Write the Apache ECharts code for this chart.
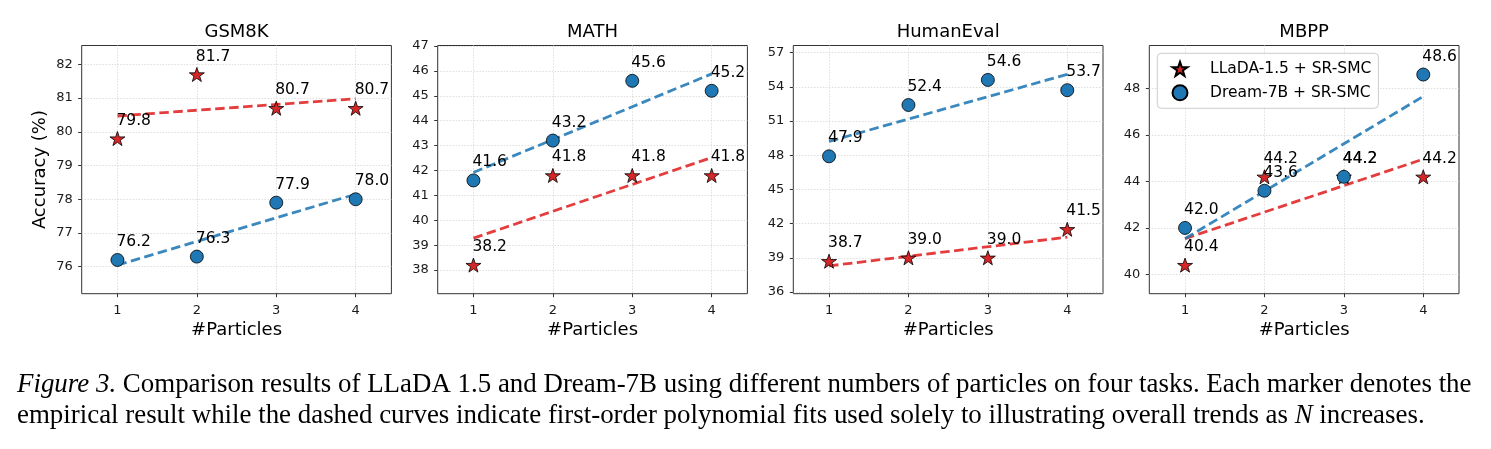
<!DOCTYPE html>
<html>
<head>
<meta charset="utf-8">
<script src="https://cdn.jsdelivr.net/npm/echarts@6/dist/echarts.min.js"></script>
<style>
html,body{margin:0;padding:0;background:#fff;}
#chart{width:1491px;height:449px;}
</style>
</head>
<body>
<div id="chart"></div>
<script>
// ---------------- data ----------------
const TASKS = ['GSM8K', 'MATH', 'HumanEval', 'MBPP'];
const PARTICLES = [1, 2, 3, 4];
const SERIES_NAMES = ['LLaDA-1.5 + SR-SMC', 'Dream-7B + SR-SMC'];

const LLADA_GSM8K = [79.8, 81.7, 80.7, 80.7];
const DREAM_GSM8K = [76.2, 76.3, 77.9, 78.0];
const LLADA_MATH = [38.2, 41.8, 41.8, 41.8];
const DREAM_MATH = [41.6, 43.2, 45.6, 45.2];
const LLADA_HUMANEVAL = [38.7, 39.0, 39.0, 41.5];
const DREAM_HUMANEVAL = [47.9, 52.4, 54.6, 53.7];
const LLADA_MBPP = [40.4, 44.2, 44.2, 44.2];
const DREAM_MBPP = [42.0, 43.6, 44.2, 48.6];

// first-order fit lines, values at #Particles = 1 and 4
const FIT_X = [1, 4];
const LLADA_FIT_GSM8K = [80.47, 80.98];
const DREAM_FIT_GSM8K = [76.05, 78.15];
const LLADA_FIT_MATH = [39.28, 42.52];
const DREAM_FIT_MATH = [41.92, 45.88];
const LLADA_FIT_HUMANEVAL = [38.29, 40.81];
const DREAM_FIT_HUMANEVAL = [49.21, 55.09];
const LLADA_FIT_MBPP = [41.54, 44.96];
const DREAM_FIT_MBPP = [41.54, 47.66];

// y tick labels per panel
const YTICKS_GSM8K = [76, 77, 78, 79, 80, 81, 82];
const YTICKS_MATH = [38, 39, 40, 41, 42, 43, 44, 45, 46, 47];
const YTICKS_HUMANEVAL = [36, 39, 42, 45, 48, 51, 54, 57];
const YTICKS_MBPP = [40, 42, 44, 46, 48];

const CAPTION_LINE1 = [['Figure 3.', true], ['Comparison results of LLaDA 1.5 and Dream-7B using different numbers of particles on four tasks. Each marker denotes the', false]];
const CAPTION_LINE2 = [['empirical result while the dashed curves indicate first-order polynomial fits used solely to illustrating overall trends as ', false], ['N', true], [' increases.', false]];

// ---------------- layout / style ----------------
const LLADA = [LLADA_GSM8K, LLADA_MATH, LLADA_HUMANEVAL, LLADA_MBPP];
const DREAM = [DREAM_GSM8K, DREAM_MATH, DREAM_HUMANEVAL, DREAM_MBPP];
const LLADA_FIT = [LLADA_FIT_GSM8K, LLADA_FIT_MATH, LLADA_FIT_HUMANEVAL, LLADA_FIT_MBPP];
const DREAM_FIT = [DREAM_FIT_GSM8K, DREAM_FIT_MATH, DREAM_FIT_HUMANEVAL, DREAM_FIT_MBPP];
const YTICKS = [YTICKS_GSM8K, YTICKS_MATH, YTICKS_HUMANEVAL, YTICKS_MBPP];
const YRANGE = [[75.2, 82.56], [37.05, 47.02], [35.85, 57.62], [39.17, 49.85]];

const FONT = '"DejaVu Sans", sans-serif';
const SERIF = '"Liberation Serif", "DejaVu Serif", serif';
const CAP_SIZE = 26.9;
const GRID_LEFT = [81.7, 437.7, 793.3, 1149.3];
const GRID_W = 309.7, GRID_TOP = 45.5, GRID_H = 248.2;
const RED = '#d62728', BLUE = '#1f77b4';
const RED_FIT = 'rgba(225,40,40,0.9)', BLUE_FIT = 'rgba(31,119,180,0.88)';
const GRID_LINE = '#cfcfcf';
const STAR = 'path://M50,0 L61.8,35.1 L98.9,35.1 L68.8,56.7 L79.4,91.9 L50,70.5 L20.6,91.9 L31.2,56.7 L1.1,35.1 L38.2,35.1 Z';

const chart = echarts.init(document.getElementById('chart'), null, {renderer: 'canvas'});

const grids = [], xAxes = [], yAxes = [], series = [], graphics = [];

const labelCfg = {
  show: true,
  position: 'inside',
  align: 'left',
  verticalAlign: 'middle',
  offset: [-1, -18],
  fontSize: 15.5,
  fontFamily: FONT,
  color: '#000',
  formatter: p => p.value[1].toFixed(1)
};

TASKS.forEach((task, i) => {
  grids.push({left: GRID_LEFT[i], top: GRID_TOP, width: GRID_W, height: GRID_H,
    show: true, borderColor: '#333', borderWidth: 1, backgroundColor: 'transparent'});
  xAxes.push({
    type: 'value', gridIndex: i, min: 0.55, max: 4.45,
    name: '#Particles', nameLocation: 'middle', nameGap: 27,
    nameTextStyle: {fontSize: 18, color: '#000', fontFamily: FONT},
    axisLine: {show: false},
    axisTick: {show: true, customValues: PARTICLES, length: 3.5, lineStyle: {color: '#333', width: 1}},
    axisLabel: {customValues: PARTICLES, fontSize: 13, color: '#1a1a1a', fontFamily: FONT, margin: 10},
    splitLine: {show: true, lineStyle: {type: [1, 2], color: GRID_LINE, width: 1}}
  });
  yAxes.push({
    type: 'value', gridIndex: i, min: YRANGE[i][0], max: YRANGE[i][1],
    name: i === 0 ? 'Accuracy (%)' : '', nameLocation: 'middle', nameGap: 32.5,
    nameTextStyle: {fontSize: 18, color: '#000', fontFamily: FONT},
    axisLine: {show: false},
    axisTick: {show: true, customValues: YTICKS[i], length: 3.5, lineStyle: {color: '#333', width: 1}},
    axisLabel: {customValues: YTICKS[i], fontSize: 13, color: '#1a1a1a', fontFamily: FONT, margin: 9},
    splitLine: {show: true, lineStyle: {type: [1, 2], color: GRID_LINE, width: 1}}
  });
  series.push({
    name: 'fit-llada-' + i, type: 'line', xAxisIndex: i, yAxisIndex: i, z: 2,
    data: FIT_X.map((x, k) => [x, LLADA_FIT[i][k]]), showSymbol: false, symbol: 'none',
    lineStyle: {color: RED_FIT, width: 2.8, type: [9.5, 4.5]}, silent: true
  });
  series.push({
    name: 'fit-dream-' + i, type: 'line', xAxisIndex: i, yAxisIndex: i, z: 2,
    data: FIT_X.map((x, k) => [x, DREAM_FIT[i][k]]), showSymbol: false, symbol: 'none',
    lineStyle: {color: BLUE_FIT, width: 2.8, type: [9.5, 4.5]}, silent: true
  });
  series.push({
    name: SERIES_NAMES[0], type: 'scatter', xAxisIndex: i, yAxisIndex: i, z: 4,
    symbol: STAR, symbolSize: 15, symbolKeepAspect: true,
    itemStyle: {color: RED, borderColor: '#000', borderWidth: 0.8, opacity: 1},
    data: PARTICLES.map((x, k) => [x, LLADA[i][k]]),
    label: labelCfg
  });
  series.push({
    name: SERIES_NAMES[1], type: 'scatter', xAxisIndex: i, yAxisIndex: i, z: 4,
    symbol: 'circle', symbolSize: 13,
    itemStyle: {color: BLUE, borderColor: '#000', borderWidth: 0.8, opacity: 1},
    data: PARTICLES.map((x, k) => [x, DREAM[i][k]]),
    label: labelCfg
  });
  graphics.push({
    type: 'text', x: GRID_LEFT[i] + GRID_W / 2, y: 32,
    style: {text: task, font: '18px ' + FONT, fill: '#000', align: 'center', verticalAlign: 'middle'}
  });
});

// caption (line 1 justified like the source)
const measCtx = document.createElement('canvas').getContext('2d');
function capFont(it) { return (it ? 'italic ' : '') + CAP_SIZE + 'px ' + SERIF; }
const words1 = [];
CAPTION_LINE1.forEach(([txt, it]) => txt.split(' ').forEach(w => { if (w) words1.push([w, it]); }));
const CAP_X0 = 17, CAP_X1 = 1471.5;
let sumW = 0;
const widths1 = words1.map(([w, it]) => { measCtx.font = capFont(it); const m = measCtx.measureText(w).width; sumW += m; return m; });
const gap = (CAP_X1 - CAP_X0 - sumW) / (words1.length - 1);
let cx = CAP_X0;
const CAP_Y1 = 385.3, CAP_Y2 = 416.3;
words1.forEach(([w, it], k) => {
  graphics.push({type: 'text', x: cx, y: CAP_Y1, style: {text: w, font: capFont(it), fill: '#000', align: 'left', verticalAlign: 'middle'}});
  cx += widths1[k] + gap;
});
let line2 = '';
CAPTION_LINE2.forEach(([txt, it]) => { line2 += it ? '{i|' + txt + '}' : txt; });
graphics.push({type: 'text', x: CAP_X0, y: CAP_Y2,
  style: {text: line2, font: capFont(false), fill: '#000', align: 'left', verticalAlign: 'middle',
    rich: {i: {font: capFont(true), fill: '#000'}}}});

const option = {
  animation: false,
  backgroundColor: '#fff',
  grid: grids,
  xAxis: xAxes,
  yAxis: yAxes,
  series: series,
  graphic: graphics,
  legend: {
    orient: 'vertical', left: 1157.3, top: 53.3,
    padding: [7.5, 7, 7, 14.2], itemGap: 7.4, itemWidth: 15, itemHeight: 15,
    backgroundColor: 'rgba(255,255,255,0.8)', borderColor: '#cccccc', borderWidth: 1, borderRadius: 4,
    selectedMode: false,
    textStyle: {fontSize: 15.5, color: '#000', fontFamily: FONT, lineHeight: 15, padding: [0, 0, 0, 17.5]},
    data: [{name: SERIES_NAMES[0], icon: STAR}, {name: SERIES_NAMES[1], icon: 'circle'}]
  }
};
chart.setOption(option);
</script>
</body>
</html>
